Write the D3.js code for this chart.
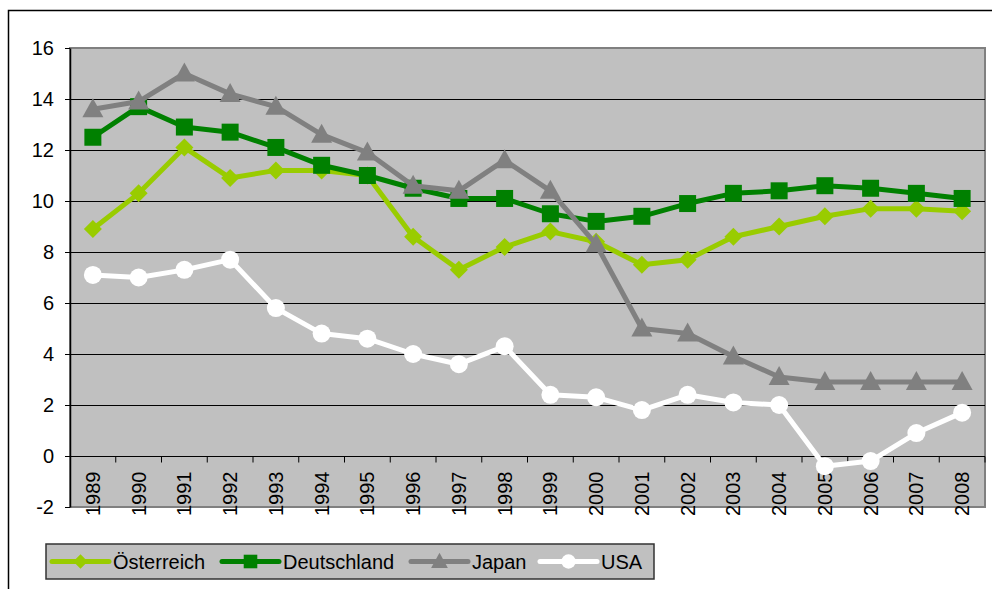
<!DOCTYPE html>
<html><head><meta charset="utf-8">
<script src="https://cdn.jsdelivr.net/npm/d3@7"></script>
<style>body{margin:0;background:#fff;}svg{display:block;font-family:Arial,"Liberation Sans",sans-serif;}</style>
</head><body>
<svg id="c" width="992" height="589"></svg>
<script>
const years = ["1989","1990","1991","1992","1993","1994","1995","1996","1997","1998","1999","2000","2001","2002","2003","2004","2005","2006","2007","2008"];
const oesterreich = [8.9,10.3,12.1,10.9,11.2,11.2,11.0,8.6,7.3,8.2,8.8,8.4,7.5,7.7,8.6,9.0,9.4,9.7,9.7,9.6];
const deutschland = [12.5,13.7,12.9,12.7,12.1,11.4,11.0,10.5,10.1,10.1,9.5,9.2,9.4,9.9,10.3,10.4,10.6,10.5,10.3,10.1];
const japan = [13.6,13.9,15.0,14.2,13.7,12.6,11.9,10.6,10.4,11.6,10.4,8.3,5.0,4.8,3.9,3.1,2.9,2.9,2.9,2.9];
const usa = [7.1,7.0,7.3,7.7,5.8,4.8,4.6,4.0,3.6,4.3,2.4,2.3,1.8,2.4,2.1,2.0,-0.4,-0.2,0.9,1.7];
const yTicks = [-2,0,2,4,6,8,10,12,14,16];
const seriesNames = ["Österreich","Deutschland","Japan","USA"];

// custom marker shapes (scale k)
const diamond = k => `M0,${-9*k}L${9*k},0L0,${9*k}L${-9*k},0Z`;
const square = k => `M${-8.5*k},${-8.5*k}h${17*k}v${17*k}h${-17*k}Z`;
const triangle = k => `M0,${-11*k}L${10.5*k},${8*k}L${-10.5*k},${8*k}Z`;
const circle = k => d3.symbol().type(d3.symbolCircle).size(Math.PI * 81 * k * k)();

const series = [
  {name: seriesNames[0], values: oesterreich, color: "#99cc00", sym: diamond},
  {name: seriesNames[1], values: deutschland, color: "#008000", sym: square},
  {name: seriesNames[2], values: japan, color: "#808080", sym: triangle},
  {name: seriesNames[3], values: usa, color: "#ffffff", sym: circle}
];

const svg = d3.select("#c");
const L = 70, R = 985, T = 48, B = 507;

svg.append("rect").attr("x", 8.5).attr("y", 10.5).attr("width", 1000).attr("height", 700)
  .attr("fill", "#fff").attr("stroke", "#000").attr("stroke-width", 1.5);

const x = d3.scaleBand().domain(years).range([L, R]);
const y = d3.scaleLinear().domain([-2, 16]).range([B, T]);

svg.append("rect").attr("x", L).attr("y", T).attr("width", R - L).attr("height", B - T)
  .attr("fill", "#c0c0c0").attr("stroke", "#808080").attr("stroke-width", 2);

svg.append("g").selectAll("line").data(yTicks.filter(t => t > -2 && t < 16)).join("line")
  .attr("x1", L).attr("x2", R).attr("y1", d => Math.round(y(d)) + 0.5).attr("y2", d => Math.round(y(d)) + 0.5)
  .attr("stroke", "#000").attr("stroke-width", 1);

const yAxis = svg.append("g").attr("transform", `translate(${L},0)`)
  .call(d3.axisLeft(y).tickValues(yTicks).tickFormat(d => String(d)).tickSize(5).tickPadding(11).tickSizeOuter(0));
yAxis.select(".domain").attr("stroke", "#000").attr("stroke-width", 1.5);
yAxis.selectAll(".tick line").attr("stroke", "#000");
yAxis.selectAll("text").attr("font-size", 20).attr("fill", "#000").attr("font-family", "Arial, 'Liberation Sans', sans-serif");

const xg = svg.append("g").attr("transform", `translate(0,${Math.round(y(0)) + 0.5})`);
xg.append("line").attr("x1", L).attr("x2", R).attr("stroke", "#000").attr("stroke-width", 1);
const bounds = years.map(d => x(d)).concat([R]);
xg.selectAll("line.tk").data(bounds.slice(1)).join("line").attr("class", "tk")
  .attr("x1", d => d).attr("x2", d => d).attr("y1", 0).attr("y2", 6).attr("stroke", "#000");
xg.selectAll("text").data(years).join("text")
  .attr("transform", d => `translate(${x(d) + x.bandwidth() / 2 + 7},15) rotate(-90)`)
  .attr("text-anchor", "end").attr("font-size", 20).attr("fill", "#000").text(d => d);

const line = d3.line().x((d, i) => x(years[i]) + x.bandwidth() / 2).y(d => y(d));
series.forEach(s => {
  const g = svg.append("g");
  g.append("path").attr("d", line(s.values)).attr("fill", "none").attr("stroke", s.color)
    .attr("stroke-width", 5).attr("stroke-linejoin", "round");
  g.selectAll("path.m").data(s.values).join("path").attr("class", "m")
    .attr("transform", (d, i) => `translate(${x(years[i]) + x.bandwidth() / 2},${y(d)})`)
    .attr("d", s.sym(1)).attr("fill", s.color);
});

const lg = svg.append("g");
lg.append("rect").attr("x", 46).attr("y", 544).attr("width", 608).attr("height", 35)
  .attr("fill", "#c0c0c0").attr("stroke", "#333").attr("stroke-width", 1.5);
const legX = [52, 222, 411, 540];
series.forEach((s, i) => {
  const lx = legX[i], ly = 561.5;
  lg.append("line").attr("x1", lx).attr("x2", lx + 57).attr("y1", ly).attr("y2", ly)
    .attr("stroke", s.color).attr("stroke-width", 5).attr("stroke-linecap", "round");
  lg.append("path").attr("transform", `translate(${lx + 28.5},${ly})`)
    .attr("d", s.sym(0.8)).attr("fill", s.color);
  lg.append("text").attr("x", lx + 61).attr("y", ly + 7).attr("font-size", 20).attr("fill", "#000").text(s.name);
});
</script>
</body></html>
